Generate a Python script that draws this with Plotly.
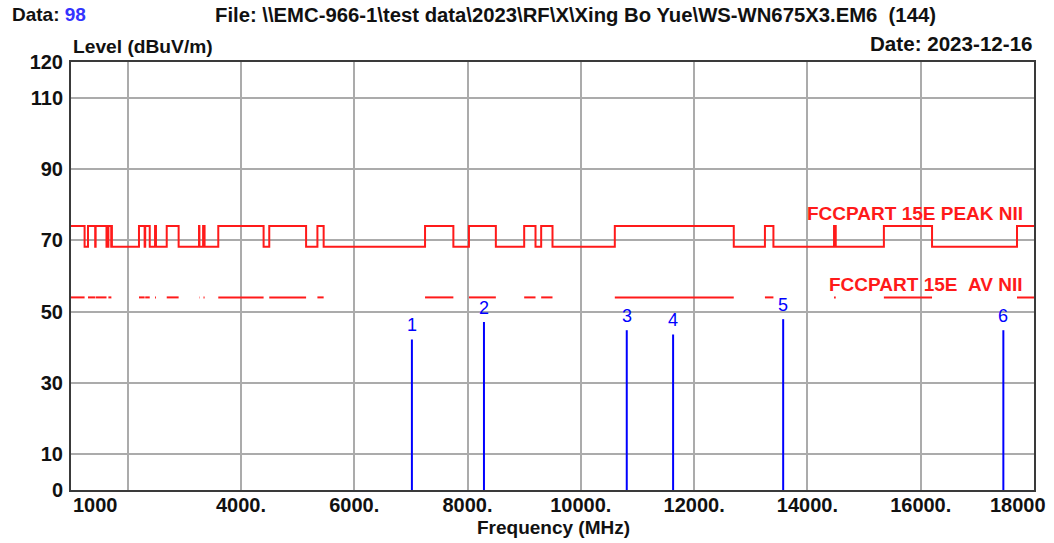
import plotly.graph_objects as go

# ---------------- data ----------------
# FCC 15.205 restricted bands inside the plotted span (MHz)
BAND_START = [960, 1300, 1435, 1645.5, 1660, 1718.8, 2200, 2310, 2483.5, 2690,
              3260, 3332, 3345.8, 3600, 4500, 5350, 7250, 8025, 9000, 9300,
              10600, 13250, 14470, 15350, 17700]
BAND_STOP = [1240, 1427, 1626.5, 1646.5, 1710, 1722.2, 2300, 2390, 2500, 2900,
             3267, 3339, 3358, 4400, 5150, 5460, 7750, 8500, 9200, 9500,
             12700, 13400, 14500, 16200, 21400]
PEAK_IN = 74.0      # dBuV/m peak limit in restricted bands
PEAK_OUT = 68.2     # dBuV/m limit outside restricted bands
AV_IN = 54.0        # dBuV/m average limit in restricted bands

# measured emissions (markers)
MARK_NO = ["1", "2", "3", "4", "5", "6"]
MARK_FREQ = [7018, 8290, 10811, 11629, 13572, 17459]
MARK_LEVEL = [42.2, 47.1, 44.8, 43.6, 47.9, 44.8]

X_RANGE = [1000, 18000]
Y_RANGE = [0, 120]
X_GRID_VALS = [2000, 4000, 6000, 8000, 10000, 12000, 14000, 16000]
X_GRID_TEXT = ["", "4000.", "6000.", "8000.", "10000.", "12000.", "14000.", "16000."]
X_EDGE_TEXT = ["1000", "18000"]
Y_TICK_VALS = [0, 10, 30, 50, 70, 90, 110, 120]

# ---------------- build limit lines ----------------
peak_x, peak_y = [X_RANGE[0]], [PEAK_OUT]
for s, e in zip(BAND_START, BAND_STOP):
    peak_x += [s, e]
    peak_y += [PEAK_IN, PEAK_OUT]
av_x, av_y = [], []
for s, e in zip(BAND_START, BAND_STOP):
    av_x += [s, e, None]
    av_y += [AV_IN, AV_IN, None]

mk_x, mk_y = [], []
for f, l in zip(MARK_FREQ, MARK_LEVEL):
    mk_x += [f, f, None]
    mk_y += [0, l, None]

FONT = "Liberation Sans, Arial, sans-serif"
RED = "#ff1a1a"
BLUE = "#0000ff"
GRID = "#ababab"
FRAME = "#3a3a3a"
INK = "#111111"

fig = go.Figure()
fig.add_trace(go.Scatter(x=peak_x, y=peak_y, mode="lines", line_shape="hv",
                         line=dict(color=RED, width=2), hoverinfo="skip"))
fig.add_trace(go.Scatter(x=av_x, y=av_y, mode="lines",
                         line=dict(color=RED, width=2), hoverinfo="skip"))
fig.add_trace(go.Scatter(x=mk_x, y=mk_y, mode="lines",
                         line=dict(color=BLUE, width=2), hoverinfo="skip"))

L, R, T, B = 71, 20, 62, 53
W, H = 1054, 543
pw, ph = W - L - R, H - T - B

def px(xpix):
    return (xpix - L) / pw

def py(ypix):
    return (H - B - ypix) / ph

def bold(size, color=INK):
    return dict(family=FONT, size=size, color=color, weight="bold")

ann = []
ann.append(dict(text='Data: <span style="color:#3333ff">98</span>', x=px(10), y=py(15),
                xref="paper", yref="paper", xanchor="left", yanchor="middle",
                showarrow=False, font=bold(19)))
ann.append(dict(text=r"File: \\EMC-966-1\test data\2023\RF\X\Xing Bo Yue\WS-WN675X3.EM6" + "\u00a0\u00a0(144)",
                x=px(213), y=py(15), xref="paper", yref="paper", xanchor="left",
                yanchor="middle", showarrow=False, font=bold(20.3)))
ann.append(dict(text="Level (dBuV/m)", x=px(71), y=py(47), xref="paper", yref="paper",
                xanchor="left", yanchor="middle", showarrow=False, font=bold(19.2)))
ann.append(dict(text="Date: 2023-12-16", x=px(1035), y=py(44), xref="paper", yref="paper",
                xanchor="right", yanchor="middle", showarrow=False, font=bold(20.6)))
ann.append(dict(text="Frequency (MHz)", x=px(553), y=py(527), xref="paper", yref="paper",
                xanchor="center", yanchor="middle", showarrow=False, font=bold(19)))
# limit line labels
ann.append(dict(text="FCCPART 15E PEAK NII", x=px(1025), y=PEAK_IN, xref="paper", yref="y",
                xanchor="right", yanchor="bottom", yshift=0, showarrow=False,
                font=bold(19, RED)))
ann.append(dict(text="FCCPART 15E\u00a0\u00a0AV NII", x=px(1025), y=AV_IN, xref="paper", yref="y",
                xanchor="right", yanchor="bottom", yshift=0, showarrow=False,
                font=bold(19, RED)))
# edge tick labels
ann.append(dict(text=X_EDGE_TEXT[0], x=X_RANGE[0], y=py(505), xref="x", yref="paper",
                xanchor="left", yanchor="middle", showarrow=False, font=bold(20)))
ann.append(dict(text=X_EDGE_TEXT[1], x=X_RANGE[1], y=py(505), xref="x", yref="paper",
                xanchor="right", xshift=14, yanchor="middle", showarrow=False, font=bold(20)))
# marker numbers
for n, f, l in zip(MARK_NO, MARK_FREQ, MARK_LEVEL):
    ann.append(dict(text=n, x=f, y=l, xref="x", yref="y", xanchor="center",
                    yanchor="bottom", yshift=2, showarrow=False,
                    font=dict(family=FONT, size=18, color=BLUE)))

fig.update_layout(
    width=W, height=H,
    margin=dict(l=L, r=R, t=T, b=B, pad=0),
    paper_bgcolor="white", plot_bgcolor="white",
    showlegend=False,
    annotations=ann,
    xaxis=dict(range=X_RANGE, tickvals=X_GRID_VALS, ticktext=X_GRID_TEXT,
               showgrid=True, gridcolor=GRID, gridwidth=2, ticks="", zeroline=False,
               showline=True, mirror=True, linecolor=FRAME, linewidth=2,
               tickfont=bold(20), ticklabelstandoff=-4),
    yaxis=dict(range=Y_RANGE, tickvals=Y_TICK_VALS, showgrid=True, gridcolor=GRID,
               gridwidth=2, zeroline=False, ticks="", showline=True, mirror=True,
               linecolor=FRAME, linewidth=2, tickfont=bold(20),
               ticklabelstandoff=2),
)
fig.write_html("out.html", config={"displayModeBar": False},
               post_script="document.body.style.margin='0';")
